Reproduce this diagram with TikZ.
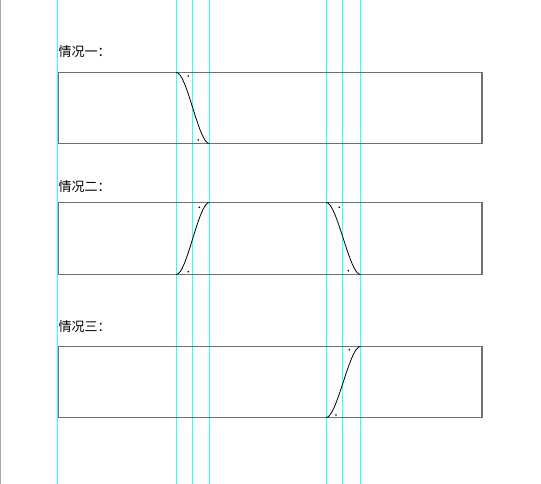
\documentclass[tikz,border=0pt]{standalone}
\usepackage{fontspec}
\newfontfamily\cjk{Noto Sans CJK SC}
\usetikzlibrary{positioning}
\definecolor{cguide}{HTML}{33FFFF}
\definecolor{cbox}{HTML}{707070}
\definecolor{cedge}{HTML}{A8A8A8}
\tikzset{
  guide/.style={draw=cguide, line width=1.3pt},
  band/.style={draw=cbox, line width=1.2pt},
  ramp/.style={draw=black, line width=0.8pt},
  knot/.style={circle, fill=black, inner sep=0pt, minimum size=1.8pt},
  case/.style={font=\cjk\fontsize{13}{15}\selectfont, anchor=west, inner sep=0pt},
}
\begin{document}
\begin{tikzpicture}[x=1pt,y=-1pt]
\useasboundingbox (0,0) rectangle (541,484);
\draw[cedge, line width=1pt] (0.5,0) -- (0.5,484);
% guide lines
\draw[guide, line width=1pt] (57.7,0) -- (57.7,484);
\draw[guide] (176.3,0) -- (176.3,484);
\draw[guide] (192.5,0) -- (192.5,484);
\draw[guide] (209.3,0) -- (209.3,484);
\draw[guide] (326.3,0) -- (326.3,484);
\draw[guide] (342.5,0) -- (342.5,484);
\draw[guide] (360.3,0) -- (360.3,484);
% case one
\node[case] (lblA) at (58.5,52) {情况一：};
\draw[band] (58.7,72.5) rectangle (482,143.5);
\coordinate (a1) at (176.3,72.5);
\coordinate (a2) at (209.3,143.5);
\draw[ramp] (a1) .. controls (187,72.5) and (198.5,143.5) .. (a2);
\node[knot] (ka1) at (188.3,76) {};
\node[knot] (ka2) at (198.3,140) {};
% case two
\node[case] (lblB) at (58.5,186.5) {情况二：};
\draw[band] (58.7,202.5) rectangle (482,274.5);
\coordinate (b1) at (176.3,274.5);
\coordinate (b2) at (209.3,202.5);
\draw[ramp] (b1) .. controls (187,274.5) and (198.5,202.5) .. (b2);
\node[knot] (kb1) at (188.3,271.7) {};
\node[knot] (kb2) at (199.3,207.3) {};
\coordinate (b3) at (326.3,202.5);
\coordinate (b4) at (360.3,274.5);
\draw[ramp] (b3) .. controls (337,202.5) and (349.5,274.5) .. (b4);
\node[knot] (kb3) at (339.3,207.3) {};
\node[knot] (kb4) at (348.3,270.7) {};
% case three
\node[case] (lblC) at (58.5,326.5) {情况三：};
\draw[band] (58.7,346.5) rectangle (482,417.5);
\coordinate (c1) at (326.3,417.5);
\coordinate (c2) at (360.3,346.5);
\draw[ramp] (c1) .. controls (337,417.5) and (349.5,346.5) .. (c2);
\node[knot] (kc1) at (336,415) {};
\node[knot] (kc2) at (349.3,349.7) {};
\end{tikzpicture}
\end{document}
